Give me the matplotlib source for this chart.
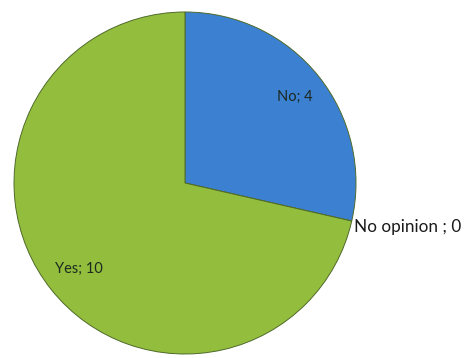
import matplotlib
matplotlib.use("Agg")
import matplotlib.pyplot as plt
import numpy as np

categories = ["No", "No opinion ", "Yes"]
values = [4, 0, 10]
colors = ["#3c80d2", "#3c80d2", "#93be3d"]

W, H = 468, 358
fig = plt.figure(figsize=(W / 100, H / 100), dpi=100)
ax = fig.add_axes([0, 0, 1, 1])

cx, cy, r = 185, H - 183, 171
wedges, _ = ax.pie(values, colors=colors, startangle=90, counterclock=False,
                   center=(cx, cy), radius=r, frame=True,
                   wedgeprops=dict(edgecolor="#4f6a2a", linewidth=0.7))
ax.set_xlim(0, W)
ax.set_ylim(0, H)
ax.set_aspect("equal")
ax.axis("off")

for w, cat, v in zip(wedges, categories, values):
    a1, a2 = np.deg2rad(w.theta1), np.deg2rad(w.theta2)
    mid = (a1 + a2) / 2
    label = f"{cat}; {v}"
    if v == 0:
        x = cx + r * np.cos(mid) + 2
        y = cy + r * np.sin(mid)
        ax.text(x, y - 6, label, ha="left", va="center", fontsize=12.3,
                family="Lato", color="#1a1a1a")
    else:
        d = 0.81 * r
        x = cx + d * np.cos(mid) + 2
        y = cy + d * np.sin(mid)
        ax.text(x, y, label, ha="center", va="center", fontsize=10.5,
                family="Lato", color="#1c2a20")

fig.savefig("out.png", dpi=100)
